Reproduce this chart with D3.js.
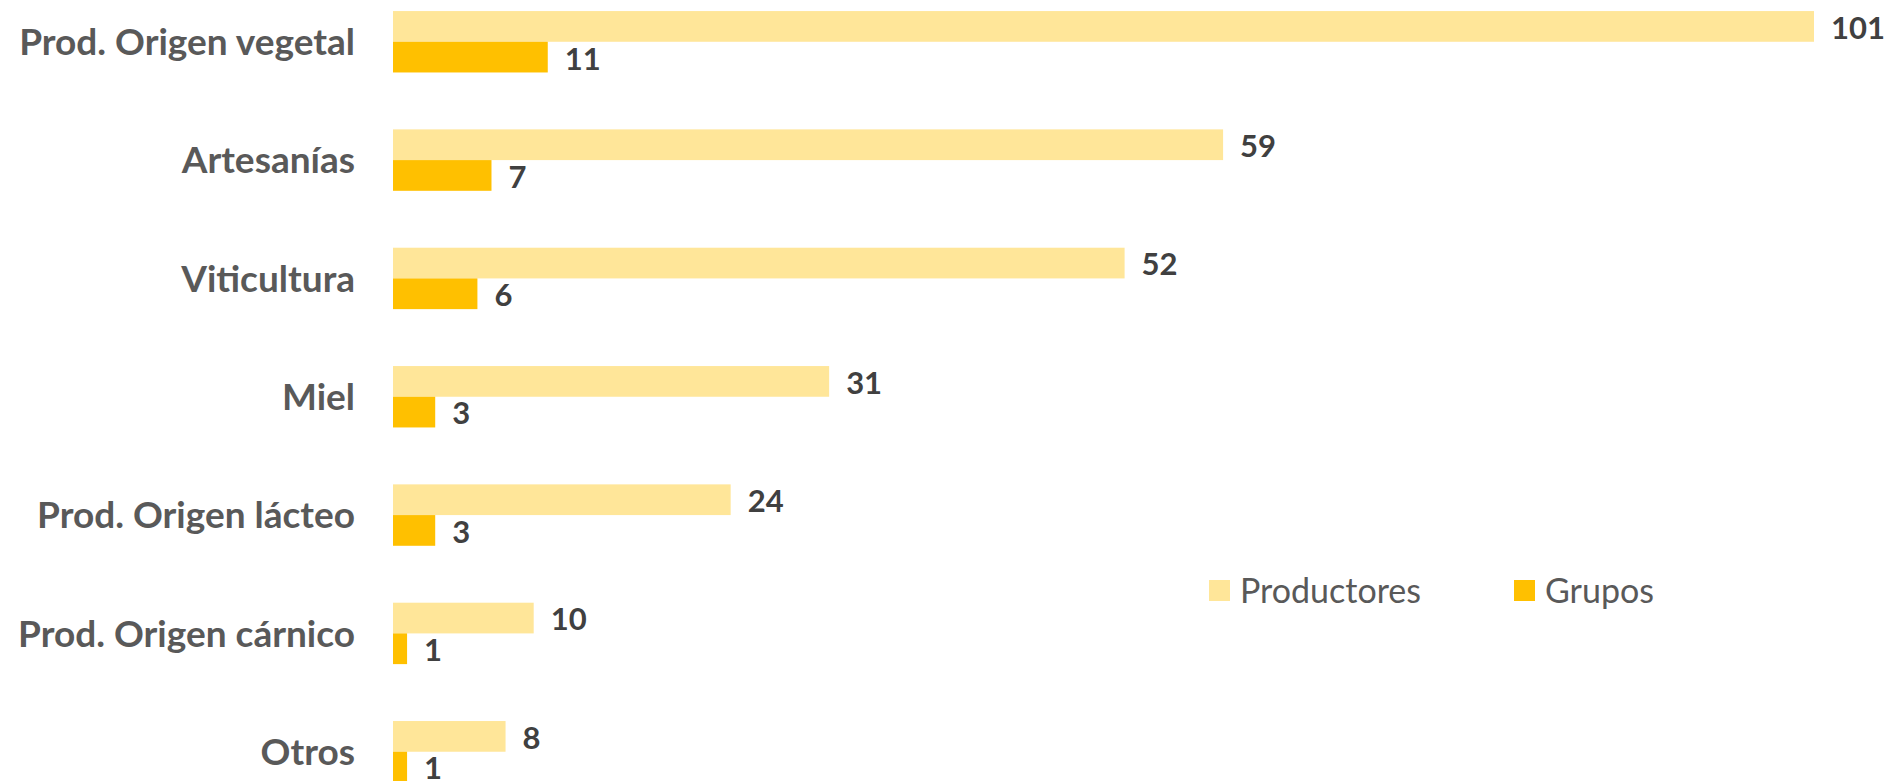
<!DOCTYPE html>
<html>
<head>
<meta charset="utf-8">
<script src="https://cdn.jsdelivr.net/npm/d3@7"></script>
<style>
  body { margin: 0; background: #fff; }
  svg { display: block; font-family: Lato, "Open Sans", sans-serif; }
</style>
</head>
<body>
<div id="chart"></div>
<script>
const categories = ["Prod. Origen vegetal", "Artesanías", "Viticultura", "Miel",
  "Prod. Origen lácteo", "Prod. Origen cárnico", "Otros"];
const seriesNames = ["Productores", "Grupos"];
const productores = [101, 59, 52, 31, 24, 10, 8];
const grupos = [11, 7, 6, 3, 3, 1, 1];
const colors = ["#FFE699", "#FFC000"];

const width = 1893, height = 781;

const svg = d3.select("#chart").append("svg")
  .attr("width", width)
  .attr("height", height);

const rows = categories.map((c, i) => ({ cat: c, values: [productores[i], grupos[i]] }));

// category bands (plot runs a little past the bottom edge, like the original)
const y = d3.scaleBand()
  .domain(categories)
  .range([-17.4, 810.9])
  .paddingInner(0.481)
  .paddingOuter(0.2405);

const ySub = d3.scaleBand()
  .domain(seriesNames)
  .range([0, y.bandwidth()]);

const x = d3.scaleLinear()
  .domain([0, d3.max(productores)])
  .range([393, 1814]);

const groups = svg.selectAll("g.cat")
  .data(rows)
  .enter()
  .append("g")
  .attr("class", "cat")
  .attr("transform", (d) => `translate(0,${y(d.cat)})`);

groups.selectAll("rect")
  .data((d) => d.values.map((v, j) => ({ v, s: seriesNames[j], j })))
  .enter()
  .append("rect")
  .attr("x", x(0))
  .attr("y", (d) => ySub(d.s))
  .attr("width", (d) => x(d.v) - x(0))
  .attr("height", ySub.bandwidth())
  .attr("fill", (d) => colors[d.j]);

groups.selectAll("text.val")
  .data((d) => d.values.map((v, j) => ({ v, s: seriesNames[j] })))
  .enter()
  .append("text")
  .attr("class", "val")
  .attr("x", (d) => x(d.v) + 17)
  .attr("y", (d) => ySub(d.s) + ySub.bandwidth() / 2)
  .attr("dy", "0.4em")
  .attr("font-size", 31)
  .attr("font-weight", "bold")
  .attr("fill", "#404040")
  .text((d) => d.v);

// category labels
svg.selectAll("text.cat")
  .data(categories)
  .enter()
  .append("text")
  .attr("class", "cat")
  .attr("x", 355)
  .attr("y", (d) => y(d) + y.bandwidth() / 2)
  .attr("dy", "0.36em")
  .attr("text-anchor", "end")
  .attr("font-size", 37)
  .attr("font-weight", "bold")
  .attr("fill", "#595959")
  .text((d) => d);

// legend
const legendX = [1209, 1514];
const legend = svg.selectAll("g.legend")
  .data(seriesNames)
  .enter()
  .append("g")
  .attr("class", "legend")
  .attr("transform", (d, i) => `translate(${legendX[i]},580)`);

legend.append("rect")
  .attr("width", 21)
  .attr("height", 21)
  .attr("fill", (d, i) => colors[i]);

legend.append("text")
  .attr("x", 31)
  .attr("y", 11)
  .attr("dy", "0.36em")
  .attr("font-size", 34)
  .attr("fill", "#595959")
  .text((d) => d);
</script>
</body>
</html>
